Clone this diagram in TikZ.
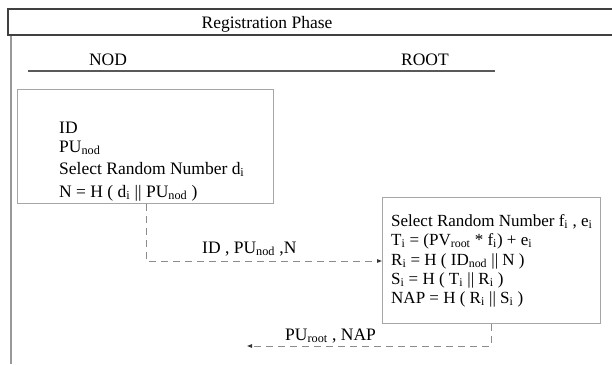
\documentclass[tikz,border=0pt]{standalone}
\usepackage{fontspec}
\setmainfont{Liberation Serif}
\usetikzlibrary{arrows.meta}
\newcommand\lo[1]{\textsubscript{#1}}
\begin{document}
\begin{tikzpicture}[x=1pt,y=-1pt,
  txt/.style={anchor=base west, inner sep=0pt, font=\fontsize{17.5}{20}\selectfont},
  rtxt/.style={anchor=base west, inner sep=0pt, font=\fontsize{17}{20}\selectfont},
  ctxt/.style={anchor=base, inner sep=0pt, font=\fontsize{17.5}{20}\selectfont},
  box/.style={draw=black!35, line width=1pt, fill=white, anchor=north west, inner sep=0pt},
  msg/.style={draw=black!45, line width=1pt, dash pattern=on 7pt off 5pt,
              -{Triangle[length=5pt,width=3.5pt,color=black!80]}}
]
\useasboundingbox (0,0) rectangle (612,364);

% frame: header bar and left border
\draw[black!40, line width=1.3pt] (11,35) -- (11,364);
\draw[black!75, line width=1.5pt, fill=white] (612,9) -- (8,9) -- (8,35) -- (612,35);
\node[ctxt] (title) at (267,28) {Registration Phase};

% party names
\node[ctxt] (nodname) at (108,65) {NOD};
\node[ctxt] (rootname) at (425,65) {ROOT};
\draw[black!65, line width=2pt] (28,71) -- (495,71);

% NOD computations
\node[box, minimum width=256, minimum height=114] (nod) at (17,89) {};
\node[txt] (n1) at (59,133) {ID};
\node[txt] (n2) at (59,152) {PU\lo{nod}};
\node[txt] (n3) at (59,174) {Select Random Number d\lo{i}};
\node[txt] (n4) at (59,197) {N = H ( d\lo{i} || PU\lo{nod} )};

% ROOT computations
\node[box, minimum width=218, minimum height=126] (root) at (382,197) {};
\node[rtxt] (r1) at (391,226) {Select Random Number f\lo{i} , e\lo{i}};
\node[rtxt] (r2) at (391,245) {T\lo{i} = (PV\lo{root} * f\lo{i}) + e\lo{i}};
\node[rtxt] (r3) at (391,265) {R\lo{i} = H ( ID\lo{nod} || N )};
\node[rtxt] (r4) at (391,284) {S\lo{i} = H ( T\lo{i} || R\lo{i} )};
\node[rtxt] (r5) at (391,303) {NAP = H ( R\lo{i} || S\lo{i} )};

% messages
\coordinate (m1) at (146,261);
\draw[msg] (m1 |- nod.south) -- (m1) -- (root.west |- m1);
\node[txt] (l1) at (202,253) {ID , PU\lo{nod} ,N};

\coordinate (m2) at (491,346);
\coordinate (m2end) at (247,346);
\draw[msg] (m2 |- root.south) -- (m2) -- (m2end);
\node[txt] (l2) at (285,340) {PU\lo{root} , NAP};
\end{tikzpicture}
\end{document}
